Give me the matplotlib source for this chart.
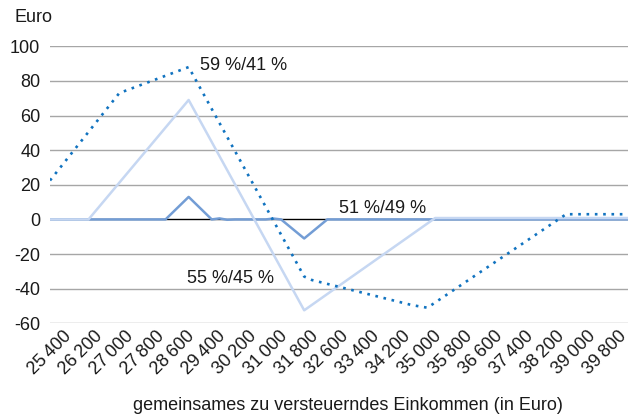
import matplotlib
matplotlib.use('Agg')
import matplotlib.pyplot as plt

plt.rcParams['font.family'] = ['Liberation Sans', 'DejaVu Sans']
plt.rcParams['font.size'] = 13

# Knickpunkte der drei Kurven (Einkommen in Euro -> Differenz in Euro)
inc_5941 = [25400, 27200, 29000, 32000, 32200, 34800, 35200, 38800, 40400]
val_5941 = [22.5, 73, 88, -33, -35, -49.5, -51, 3, 3]

inc_5149 = [25400, 28400, 29000, 29600, 29800, 30000, 30200, 31000, 31200, 31400, 32000, 32600, 40400]
val_5149 = [0, 0, 13, 0, 0.6, -0.2, 0, 0, 0.5, 0, -11, 0, 0]

inc_5545 = [25400, 26400, 29000, 32000, 35400, 40400]
val_5545 = [0, 0, 69, -52.5, 0.8, 0.8]

xticks = list(range(25400, 40000, 800))
yticks = [-60, -40, -20, 0, 20, 40, 60, 80, 100]

fig = plt.figure(figsize=(6.4, 4.17), dpi=100)
ax = fig.add_axes([50/640, 1-323.3/417, 577.7/640, 277/417])

for y in yticks:
    ax.axhline(y, color='#a6a6a6', lw=1.0, zorder=1)
ax.axhline(0, color='black', lw=0.9, zorder=2)

ax.plot(inc_5149, val_5149, color='#739dd5', lw=1.8, zorder=3)
ax.plot(inc_5545, val_5545, color='#c6d7f2', lw=1.8, zorder=4)
ax.plot(inc_5941, val_5941, color='#1173c0', lw=1.9, linestyle=(0, (1, 2.15)), zorder=5)

ax.text(29300, 89, '59 %/41 %', va='center', ha='left', color='#1a1a1a')
ax.text(32900, 6.5, '51 %/49 %', va='center', ha='left', color='#1a1a1a')
ax.text(28950, -34, '55 %/45 %', va='center', ha='left', color='#1a1a1a')

ax.set_xlim(25400, 40400)
ax.set_ylim(-60, 100)
ax.set_xticks(xticks)
ax.set_xticklabels([f'{v:,}'.replace(',', '\u2009') for v in xticks], rotation=45, color='#1a1a1a')
ax.set_yticks(yticks)
ax.set_yticklabels([str(v) for v in yticks], color='#1a1a1a')
ax.tick_params(length=0)
ax.tick_params(axis='x', pad=3)
ax.tick_params(axis='y', pad=7)
for s in ax.spines.values():
    s.set_visible(False)

fig.text(14/640, 1-18/417, 'Euro', va='center', ha='left', color='#1a1a1a')
fig.text(348/640, 1-405/417, 'gemeinsames zu versteuerndes Einkommen (in Euro)',
         va='center', ha='center', color='#1a1a1a')

fig.savefig('out.png', dpi=100)
